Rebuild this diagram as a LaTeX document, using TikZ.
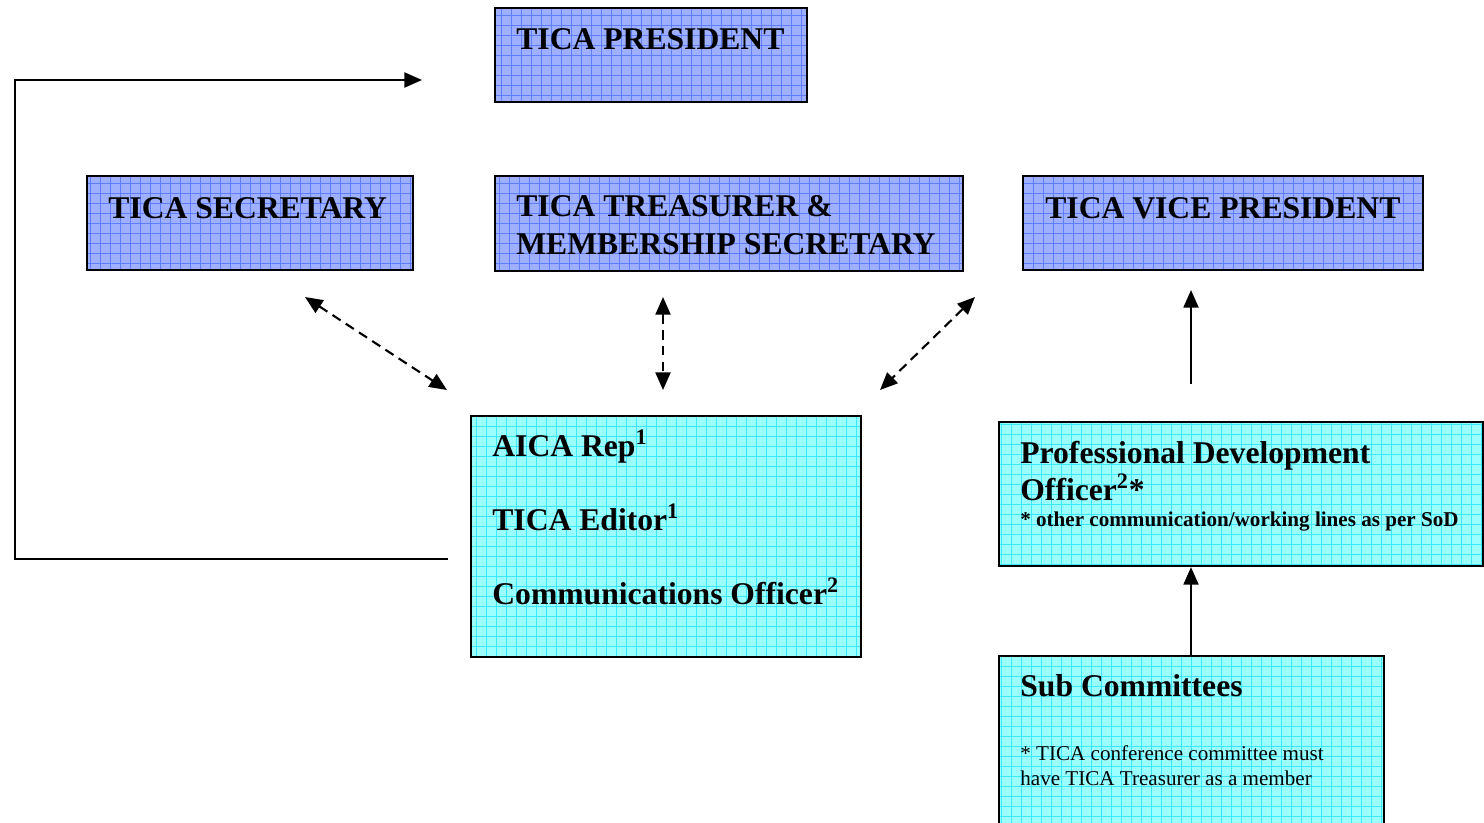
\documentclass[tikz,border=0pt]{standalone}
\usepackage{fontspec}
\setmainfont{Liberation Serif}
\usepackage{tikz}
\usetikzlibrary{arrows.meta}
\definecolor{BoxBlue}{RGB}{158,176,255}
\definecolor{GridBlue}{RGB}{95,125,255}
\definecolor{BoxCyan}{RGB}{155,255,255}
\definecolor{GridCyan}{RGB}{60,232,255}
\pgfdeclarelayer{edgelayer}
\pgfdeclarelayer{nodelayer}
\pgfsetlayers{edgelayer,nodelayer,main}
\tikzstyle{none}=[inner sep=0pt]
\tikzstyle{bn}=[rectangle,fill=BoxBlue,draw=black,line width=1.2pt,inner sep=0pt,path picture={\draw [GridBlue,line width=0.4pt] (path picture bounding box.south west) grid [step=0.2] (path picture bounding box.north east);}]
\tikzstyle{cn}=[rectangle,fill=BoxCyan,draw=black,line width=1.2pt,inner sep=0pt,path picture={\draw [GridCyan,line width=0.4pt] (path picture bounding box.south west) grid [step=0.2] (path picture bounding box.north east);}]
\tikzstyle{hd}=[inner sep=0pt,anchor=base west,font=\fontsize{18}{21}\selectfont\bfseries]
\tikzstyle{sm}=[inner sep=0pt,anchor=base west,font=\fontsize{12}{14}\selectfont\bfseries]
\tikzstyle{nt}=[inner sep=0pt,anchor=base west,font=\fontsize{12}{14}\selectfont]
\tikzstyle{simple}=[-,draw=black,line width=1.2pt]
\tikzstyle{arrow}=[-{Triangle[length=10pt,width=8.5pt]},draw=black,line width=1.2pt]
\tikzstyle{dasharrow}=[{Triangle[length=10pt,width=8.5pt]}-{Triangle[length=10pt,width=8.5pt]},draw=black,line width=1.2pt,dash pattern=on 5.5pt off 3.5pt]

\begin{document}
\begin{tikzpicture}
	\useasboundingbox (0,0) rectangle (29.68,-16.44);
	\begin{scope}
	\clip (0,0) rectangle (29.68,-16.44);
	\begin{pgfonlayer}{nodelayer}
		\node [style=bn,minimum width=6.24cm,minimum height=1.88cm] (0) at (13.02,-1.1) {};
		\node [style=bn,minimum width=6.52cm,minimum height=1.88cm] (1) at (5.0,-4.46) {};
		\node [style=bn,minimum width=9.36cm,minimum height=1.9cm] (2) at (14.58,-4.47) {};
		\node [style=bn,minimum width=8.0cm,minimum height=1.88cm] (3) at (24.46,-4.46) {};
		\node [style=cn,minimum width=7.8cm,minimum height=4.82cm] (4) at (13.32,-10.73) {};
		\node [style=cn,minimum width=9.68cm,minimum height=2.88cm] (5) at (24.82,-9.88) {};
		\node [style=cn,minimum width=7.7cm,minimum height=3.6cm] (6) at (23.83,-14.92) {};
		\node [style=hd] (10) at (10.32,-0.98) {TICA PRESIDENT};
		\node [style=hd] (11) at (2.16,-4.36) {TICA SECRETARY};
		\node [style=hd] (12) at (10.32,-4.32) {TICA TREASURER \&};
		\node [style=hd] (13) at (10.32,-5.08) {MEMBERSHIP SECRETARY};
		\node [style=hd] (14) at (20.9,-4.36) {TICA VICE PRESIDENT};
		\node [style=hd] (15) at (9.84,-9.12) {AICA Rep\textsuperscript{1}};
		\node [style=hd] (16) at (9.84,-10.6) {TICA Editor\textsuperscript{1}};
		\node [style=hd] (17) at (9.84,-12.08) {Communications Officer\textsuperscript{2}};
		\node [style=hd] (18) at (20.4,-9.26) {Professional Development};
		\node [style=hd] (19) at (20.4,-10.0) {Officer\textsuperscript{2}*};
		\node [style=sm] (20) at (20.4,-10.53) {* other communication/working lines as per SoD};
		\node [style=hd] (21) at (20.4,-13.93) {Sub Committees};
		\node [style=nt] (22) at (20.4,-15.2) {* TICA conference committee must};
		\node [style=nt] (23) at (20.4,-15.7) {have TICA Treasurer as a member};
		\coordinate (30) at (8.96,-11.18);
		\coordinate (31) at (0.3,-11.18);
		\coordinate (32) at (0.3,-1.6);
		\coordinate (33) at (8.44,-1.6);
		\coordinate (34) at (6.1,-5.94);
		\coordinate (35) at (8.94,-7.8);
		\coordinate (36) at (13.26,-5.94);
		\coordinate (37) at (13.26,-7.8);
		\coordinate (38) at (19.5,-5.94);
		\coordinate (39) at (17.6,-7.8);
		\coordinate (40) at (23.82,-7.68);
		\coordinate (41) at (23.82,-5.8);
	\end{pgfonlayer}
	\begin{pgfonlayer}{edgelayer}
		\draw [style=arrow] (30) to (31) to (32) to (33);
		\draw [style=dasharrow] (34) to (35);
		\draw [style=dasharrow] (36) to (37);
		\draw [style=dasharrow] (38) to (39);
		\draw [style=arrow] (40) to (41);
		\draw [style=arrow] (40 |- 6.north) to (40 |- 5.south);
	\end{pgfonlayer}
	\end{scope}
\end{tikzpicture}
\end{document}
